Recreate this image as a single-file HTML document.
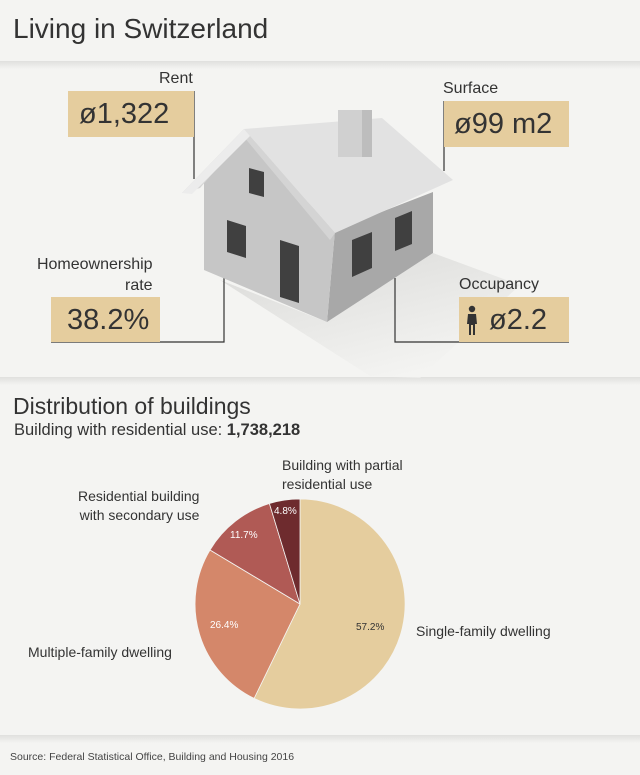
<!DOCTYPE html>
<html><head><meta charset="utf-8"><style>
body{margin:0;width:640px;height:775px;background:#f4f4f2;font-family:"Liberation Sans",sans-serif;color:#333;overflow:hidden;position:relative}
.t{position:absolute;white-space:nowrap}
.box{position:absolute;background:#e5cd9e;font-size:29px;color:#333;box-sizing:border-box;line-height:46px}
.sh{position:absolute;left:0;width:640px;height:8px}
</style></head><body>
<div class="t" style="left:13px;top:13px;font-size:28px;color:#333">Living in Switzerland</div>
<div class="sh" style="top:61px;background:linear-gradient(#e0e0de,#f4f4f2)"></div>
<div class="sh" style="top:377px;background:linear-gradient(#e0e0de,#f4f4f2)"></div>
<div class="sh" style="top:735px;background:linear-gradient(#e0e0de,#f4f4f2)"></div>
<svg width="640" height="775" style="position:absolute;left:0;top:0">
<defs><linearGradient id="s" x1="0" y1="0" x2="0.6" y2="1"><stop offset="0" stop-color="#c8c8c6"/><stop offset="1" stop-color="#f4f4f2"/></linearGradient></defs>
<polygon points="220,280 327,322 433,253 520,285 420,378 370,376" fill="url(#s)" opacity="0.6"/>
<g stroke="#333" stroke-width="1.2" fill="none">
<polyline points="194,91 194,179"/>
<polyline points="444,101 444,171"/>
<polyline points="51,342 224,342 224,278"/>
<polyline points="569,342 395,342 395,278"/>
</g>
<polygon points="335,230 433,192 433,253 327,322" fill="#a8a8a8"/>
<polygon points="204,183 244,137 335,230 327,322 204,270" fill="#c6c6c6"/>
<polygon points="244,129 382,118 453,180 335,233" fill="#e2e2e2"/>
<polygon points="182,193 244,129 335,233 330,240 244,137 200,188" fill="#d4d4d4"/>
<polygon points="182,193 244,129 250,136 192,194" fill="#ececec"/>
<rect x="338" y="110" width="34" height="47" fill="#d0d0d0"/>
<rect x="362" y="110" width="10" height="47" fill="#bdbdbd"/>
<polygon points="249,168 264,172 264,197 249,193" fill="#404040"/>
<polygon points="227,220 246,226 246,258 227,252" fill="#404040"/>
<polygon points="280,240 299,246 299,303 280,297" fill="#404040"/>
<polygon points="352,240 372,232 372,268 352,277" fill="#404040"/>
<polygon points="395,218 412,211 412,244 395,251" fill="#404040"/>
<g stroke="#f4f4f2" stroke-width="0.8">
<path d="M300,604 L300,499 A105,105 0 1,1 254.1,698.4 Z" fill="#e5cd9e"/>
<path d="M300,604 L254.1,698.4 A105,105 0 0,1 210,550 Z" fill="#d4876a"/>
<path d="M300,604 L210,550 A105,105 0 0,1 269.4,503.5 Z" fill="#b05a55"/>
<path d="M300,604 L269.4,503.5 A105,105 0 0,1 300,499 Z" fill="#6e2b2e"/>
</g>
</svg>
<div class="t" style="left:159px;top:70px;font-size:16px">Rent</div>
<div class="box" style="left:68px;top:91px;width:126px;height:46px;padding-left:11px">ø1,322</div>
<div class="t" style="left:443px;top:80px;font-size:16px">Surface</div>
<div class="box" style="left:444px;top:101px;width:125px;height:46px;padding-left:10px">ø99 m2</div>
<div class="t" style="left:33px;top:254px;font-size:16px;text-align:right;line-height:21px">Homeownership<br><span style="padding-left:92px">rate</span></div>
<div class="box" style="left:51px;top:297px;width:109px;height:45px;padding-left:16px">38.2%</div>
<div class="t" style="left:459px;top:276px;font-size:16px">Occupancy</div>
<div class="box" style="left:459px;top:297px;width:110px;height:45px;padding-left:30px">ø2.2</div>
<svg style="position:absolute;left:465px;top:305px" width="14" height="30"><circle cx="7" cy="4" r="3.2" fill="#333"/><path d="M3,9 H11 L12,19 H10 V30 H8 V20 H6 V30 H4 V19 H2 Z" fill="#333"/></svg>
<div class="t" style="left:13px;top:393px;font-size:23px">Distribution of buildings</div>
<div class="t" style="left:14px;top:421px;font-size:16.5px">Building with residential use: <b>1,738,218</b></div>
<div class="t" style="left:282px;top:456px;font-size:14px;line-height:19px">Building with partial<br>residential use</div>
<div class="t" style="left:78px;top:487px;font-size:14px;line-height:19px;text-align:right">Residential building<br>with secondary use</div>
<div class="t" style="left:28px;top:644px;font-size:14px">Multiple-family dwelling</div>
<div class="t" style="left:416px;top:623px;font-size:14px">Single-family dwelling</div>
<div class="t" style="left:274px;top:506px;font-size:10px;color:#fff">4.8%</div>
<div class="t" style="left:230px;top:530px;font-size:10px;color:#fff">11.7%</div>
<div class="t" style="left:210px;top:620px;font-size:10px;color:#fff">26.4%</div>
<div class="t" style="left:356px;top:622px;font-size:10px;color:#333">57.2%</div>
<div class="t" style="left:10px;top:751px;font-size:10.5px;color:#444">Source: Federal Statistical Office, Building and Housing 2016</div>
</body></html>
